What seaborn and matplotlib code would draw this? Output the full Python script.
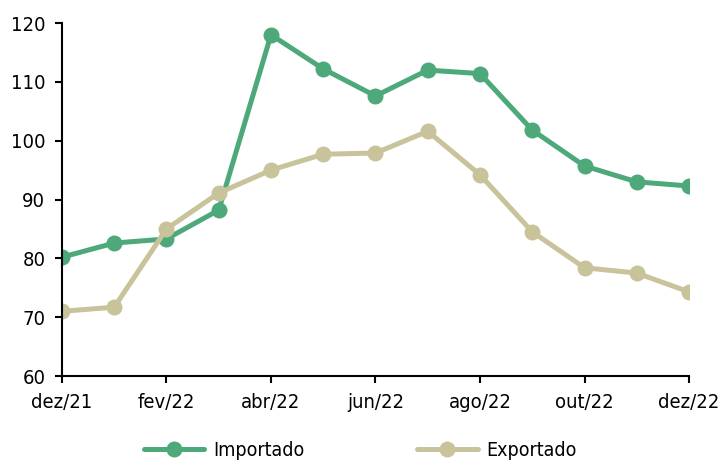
import pandas as pd
import matplotlib
matplotlib.use("Agg")
import matplotlib.pyplot as plt
import seaborn as sns

meses = ["dez/21", "jan/22", "fev/22", "mar/22", "abr/22", "mai/22", "jun/22",
         "jul/22", "ago/22", "set/22", "out/22", "nov/22", "dez/22"]
importado = [80.2, 82.6, 83.3, 88.2, 118.0, 112.2, 107.6, 112.0, 111.4, 101.8, 95.7, 93.0, 92.3]
exportado = [71.0, 71.7, 85.0, 91.1, 95.0, 97.7, 97.9, 101.6, 94.2, 84.5, 78.4, 77.5, 74.3]

sns.set_style("ticks")
plt.rcParams["font.family"] = ["DejaVu Sans"]
plt.rcParams["font.stretch"] = "condensed"

df = pd.DataFrame({
    "idx": list(range(len(meses))) * 2,
    "valor": importado + exportado,
    "serie": ["Importado"] * len(meses) + ["Exportado"] * len(meses),
})

fig = plt.figure(figsize=(7.19, 4.66), dpi=100)
ax = fig.add_axes([0.0862, 0.1931, 0.8721, 0.7575])
sns.lineplot(data=df, x="idx", y="valor", hue="serie",
             palette={"Importado": "#4DA87A", "Exportado": "#C9C39B"},
             marker="o", markersize=11.5, markeredgewidth=0, linewidth=3.6, ax=ax)

ax.set_xlim(0, len(meses) - 1)
ax.set_ylim(60, 120)
ax.set_yticks(range(60, 121, 10))
ax.set_xticks(range(0, len(meses), 2))
ax.set_xticklabels(meses[::2])
ax.set_xlabel("")
ax.set_ylabel("")
ax.tick_params(axis="both", labelsize=14.5, length=5, width=1.5, color="black",
               labelcolor="black", direction="out", pad=7)
for s in ["left", "bottom"]:
    ax.spines[s].set_linewidth(1.5)
    ax.spines[s].set_color("black")
sns.despine(ax=ax)

leg = ax.legend(loc="upper center", bbox_to_anchor=(0.476, -0.135), ncol=2, frameon=False,
                fontsize=14, columnspacing=5.8, handlelength=3.1, handletextpad=0.45)
for t in leg.get_texts():
    t.set_color("black")

fig.savefig("out.png", dpi=100)
